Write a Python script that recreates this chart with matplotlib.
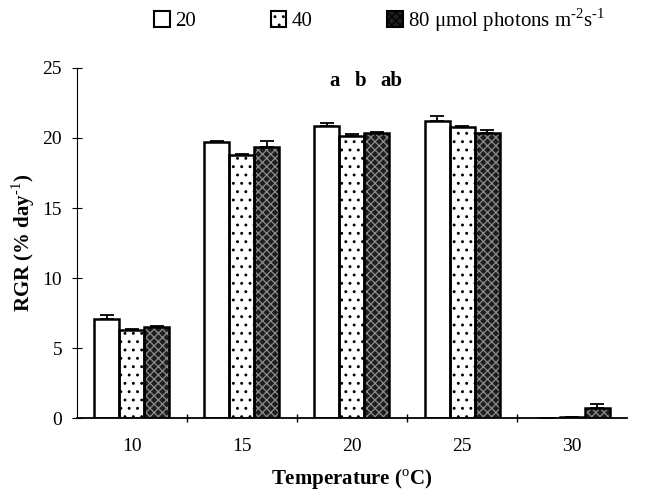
import numpy as np
import matplotlib.pyplot as plt
import matplotlib as mpl

# data
temps = ['10', '15', '20', '25', '30']
rgr_20 = [7.1, 19.7, 20.85, 21.2, 0.0]
rgr_40 = [6.3, 18.75, 20.15, 20.8, 0.05]
rgr_80 = [6.5, 19.35, 20.35, 20.35, 0.75]
err_20 = [0.3, 0.1, 0.2, 0.4, 0.0]
err_40 = [0.1, 0.1, 0.1, 0.05, 0.0]
err_80 = [0.05, 0.4, 0.1, 0.2, 0.25]
letters = ['a', 'b', 'ab']

mpl.rcParams['font.family'] = ['Liberation Serif', 'DejaVu Serif']
mpl.rcParams['mathtext.fontset'] = 'custom'
mpl.rcParams['mathtext.rm'] = 'Liberation Serif'
mpl.rcParams['mathtext.bf'] = 'Liberation Serif:bold'
mpl.rcParams['hatch.linewidth'] = 0.9

fig = plt.figure(figsize=(6.5, 4.92), dpi=100)
ax = fig.add_axes([0.118, 0.150, 0.847, 0.712])

x = np.arange(len(temps))
w = 0.227
series = [
    (rgr_20, err_20, 'white', 'black', '', '20'),
    (rgr_40, err_40, 'white', 'black', '..', '40'),
    (rgr_80, err_80, '#1e1e1e', '#8c8c8c', 'xxxx',
     '80 \u03bcmol photons m$^{\\text{-2}}$s$^{\\text{-1}}$'),
]
handles = []
for i, (vals, errs, fc, hc, hatch, lab) in enumerate(series):
    pos = x + (i - 1) * w
    # fill with hatch, then black outline on top
    ax.bar(pos, vals, w, facecolor=fc, edgecolor=hc, hatch=hatch,
           linewidth=0, zorder=2)
    ax.bar(pos, vals, w, fill=False, edgecolor='black', linewidth=1.8, zorder=2.5)
    ax.errorbar(pos, vals, yerr=[np.zeros(len(vals)), errs], fmt='none',
                ecolor='black', elinewidth=1.3, capsize=5, capthick=1.3, zorder=3)
    handles.append(mpl.patches.Patch(facecolor=fc, edgecolor='black',
                                     hatch=hatch, linewidth=1.5))

letter_x = [-0.155, 0.075, 0.36]
for dx, t in zip(letter_x, letters):
    ax.text(2 + dx, 24.1, t, ha='center', va='center',
            fontsize=15, fontweight='bold')

ax.set_xlim(-0.5, 4.5)
ax.set_ylim(0, 25)
ax.set_yticks([0, 5, 10, 15, 20, 25])
ax.set_xticks(x)
ax.set_xticklabels(temps)
ax.set_xticks(np.arange(0.5, 4.5, 1), minor=True)
ax.tick_params(axis='x', which='major', length=0, pad=14, labelsize=14)
ax.tick_params(axis='x', which='minor', length=6, direction='inout', width=1)
ax.tick_params(axis='y', length=7, direction='inout', labelsize=14, pad=7)
ax.spines['top'].set_visible(False)
ax.spines['right'].set_visible(False)
ax.spines['bottom'].set_linewidth(1.3)
ax.spines['left'].set_linewidth(0.8)

ax.set_ylabel('RGR (% day$^{\\text{-1}}$)', fontsize=15, fontweight='bold', labelpad=4)
ax.set_xlabel('Temperature ($^{\\rm o}$C)', fontsize=15, fontweight='bold', labelpad=9)

labels = [s[5] for s in series]
fig.legend(handles, labels, loc='upper center', bbox_to_anchor=(0.584, 1.026), ncol=3,
           frameon=False, prop={'family': 'Liberation Serif', 'size': 15},
           handlelength=0.75, handleheight=0.75, handletextpad=0.25, columnspacing=3.6)

fig.savefig('out.png', dpi=100)
